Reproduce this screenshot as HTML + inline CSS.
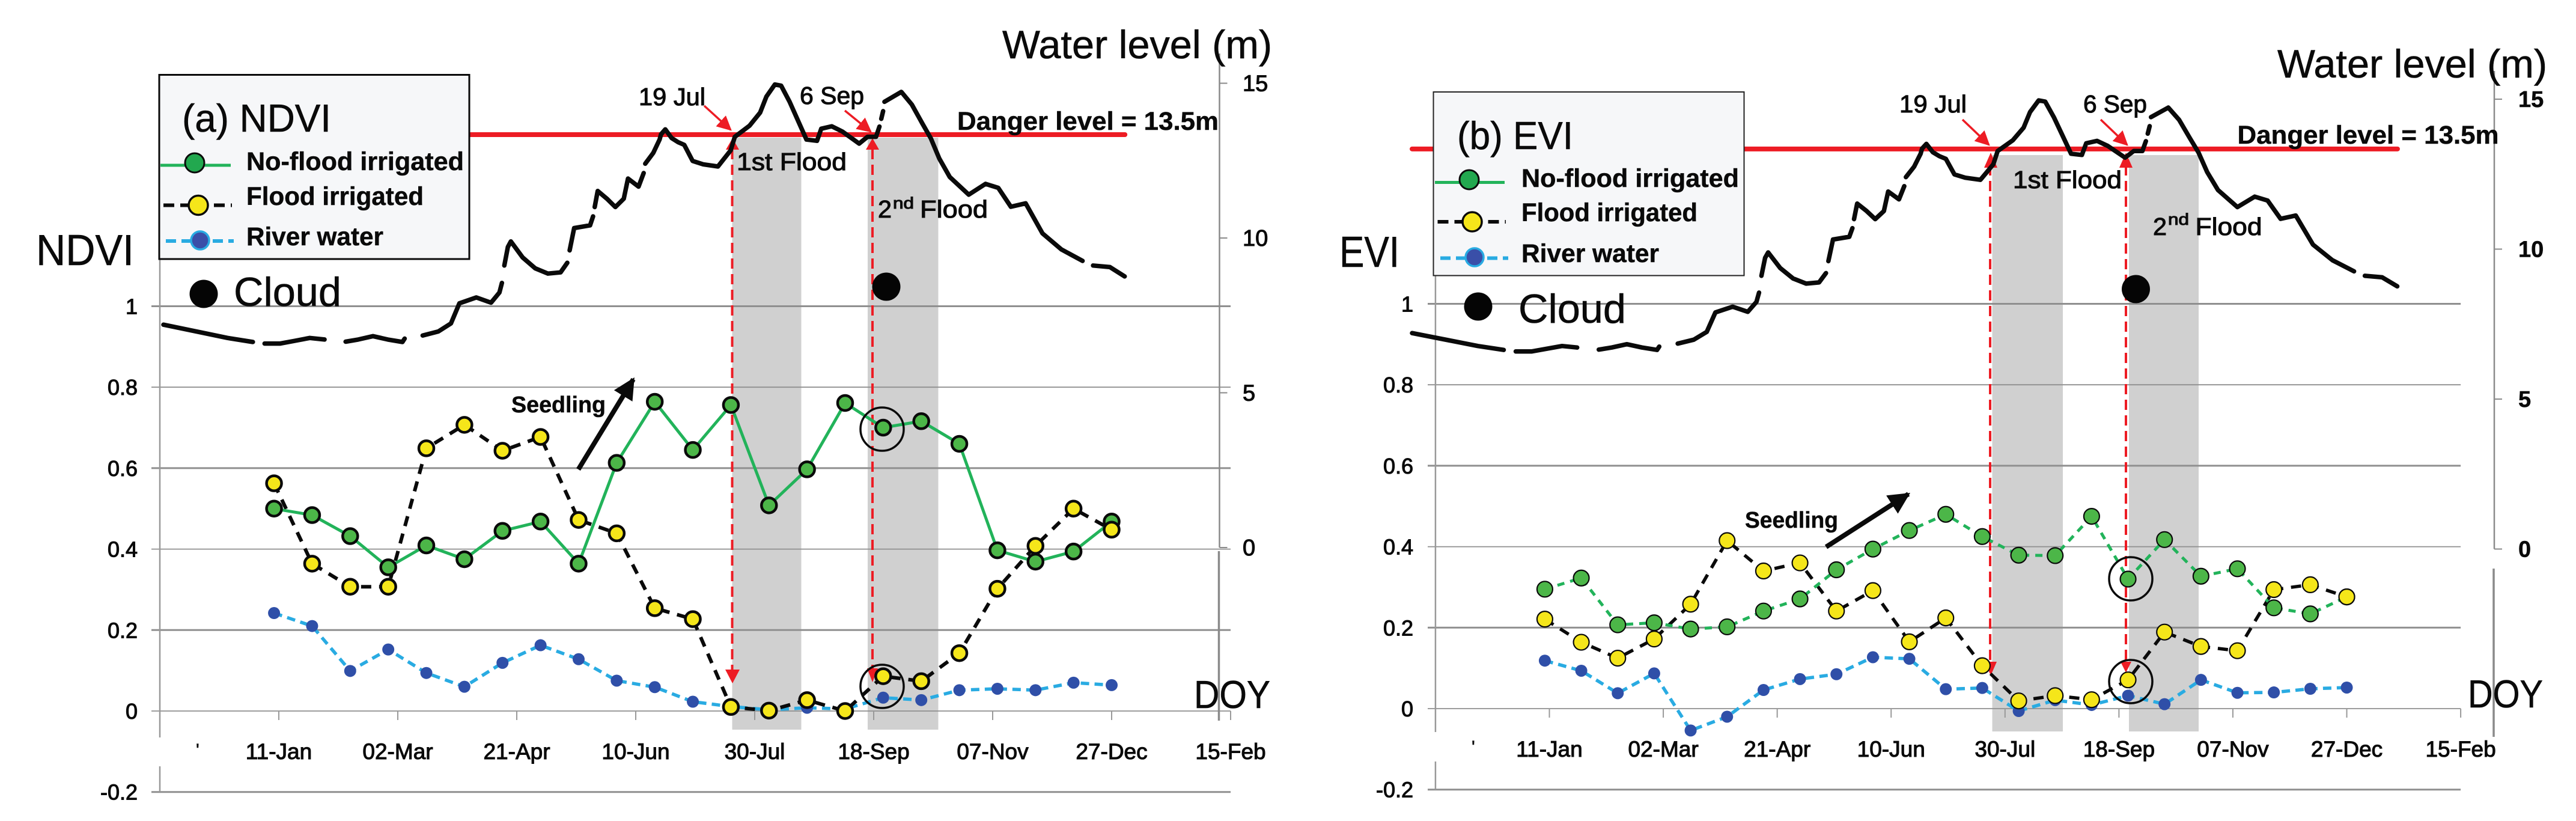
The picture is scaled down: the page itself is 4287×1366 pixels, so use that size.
<!DOCTYPE html>
<html lang="en">
<head>
<meta charset="utf-8">
<title>NDVI and EVI time series with water level</title>
<style>
html,body{margin:0;padding:0;background:#fff;}
svg{display:block;}
text{font-family:"Liberation Sans",sans-serif;fill:#0a0a0a;stroke:#0a0a0a;stroke-width:.6px;}
.st{stroke:#0a0a0a;stroke-width:1.1px;}
.b{font-weight:bold;stroke-width:.5px;}
</style>
</head>
<body>
<svg id="figure" xmlns="http://www.w3.org/2000/svg" width="4287" height="1366" viewBox="0 0 4287 1366">
<defs>
<marker id="tri" viewBox="0 0 10 10" refX="9" refY="5" markerWidth="7" markerHeight="7" orient="auto"><path d="M0 0L10 5L0 10Z" fill="#ed1c24"/></marker>
<marker id="blk" viewBox="0 0 10 10" refX="9" refY="5" markerWidth="4.5" markerHeight="4.5" orient="auto"><path d="M0 0L10 5L0 10Z" fill="#0a0a0a"/></marker>
</defs>

<!-- PANEL A underlay -->
<g>
<rect x="1218.5" y="229" width="115" height="985" fill="#d0d0d0"/>
<rect x="1444" y="229" width="117.5" height="985" fill="#d0d0d0"/>
</g>
<g id="panel-a"></g>
<g>
<line x1="1218.5" y1="248" x2="1218.5" y2="1116" stroke="#ed1c24" stroke-width="4" stroke-dasharray="17 9"/>
<line x1="1452" y1="248" x2="1452" y2="1112" stroke="#ed1c24" stroke-width="4" stroke-dasharray="17 9"/>
<path d="M1219 230L1230 249L1208 249Z" fill="#ed1c24"/>
<path d="M1452 230L1463 249L1441 249Z" fill="#ed1c24"/>
<path d="M1219 1137L1207 1114L1231 1114Z" fill="#ed1c24"/>
<path d="M1452 1135L1443 1112L1461 1112Z" fill="#ed1c24"/>
<line x1="1172" y1="176" x2="1216" y2="216" stroke="#ed1c24" stroke-width="3.5" marker-end="url(#tri)"/>
<line x1="1406" y1="184" x2="1449" y2="219" stroke="#ed1c24" stroke-width="3.5" marker-end="url(#tri)"/>
</g>
<g id="panel-a-series"></g>
<g>
<ellipse cx="1468" cy="714" rx="36" ry="36" fill="none" stroke="#0a0a0a" stroke-width="3.5"/>
<ellipse cx="1468" cy="1142" rx="36" ry="36" fill="none" stroke="#0a0a0a" stroke-width="3.5"/>
<circle cx="1475" cy="477" r="23.5" fill="#050505"/>
<line x1="962.5" y1="781" x2="1054" y2="631" stroke="#0a0a0a" stroke-width="8" marker-end="url(#blk)"/>
<text class="b" x="851" y="686" font-size="38" textLength="157" lengthAdjust="spacingAndGlyphs">Seedling</text>
<text class="st" x="1063" y="175" font-size="41" textLength="111" lengthAdjust="spacingAndGlyphs">19 Jul</text>
<text class="st" x="1331" y="173" font-size="41" textLength="107" lengthAdjust="spacingAndGlyphs">6 Sep</text>
<text class="b" x="1593" y="216" font-size="43" textLength="435" lengthAdjust="spacingAndGlyphs">Danger level = 13.5m</text>
<text class="st" x="1226" y="283" font-size="41" textLength="183" lengthAdjust="spacingAndGlyphs">1st Flood</text>
<text class="st" x="1461" y="362" font-size="41" textLength="23" lengthAdjust="spacingAndGlyphs">2</text>
<text class="st" x="1486" y="347" font-size="27" textLength="35" lengthAdjust="spacingAndGlyphs">nd</text>
<text class="st" x="1531" y="362" font-size="41" textLength="113" lengthAdjust="spacingAndGlyphs">Flood</text>
<text x="1668" y="97" font-size="66" textLength="449" lengthAdjust="spacingAndGlyphs">Water level (m)</text>
<text x="60" y="441" font-size="72" textLength="163" lengthAdjust="spacingAndGlyphs">NDVI</text>
<text x="1987" y="1178" font-size="65" textLength="127" lengthAdjust="spacingAndGlyphs">DOY</text>
<text x="326" y="1258" font-size="30">'</text>
<g>
<rect x="265" y="124.5" width="516" height="306.5" fill="#f6f7f9" stroke="#0a0a0a" stroke-width="3"/>
<text x="303" y="219" font-size="65" textLength="248" lengthAdjust="spacingAndGlyphs">(a) NDVI</text>
<line x1="267" y1="275" x2="384" y2="275" stroke="#22b35a" stroke-width="5"/>
<circle cx="324" cy="271" r="16" fill="#22a84f" stroke="#0a0a0a" stroke-width="3"/>
<text class="b" x="410" y="283" font-size="43" textLength="362" lengthAdjust="spacingAndGlyphs">No-flood irrigated</text>
<line x1="272" y1="341.5" x2="386" y2="341.5" stroke="#0a0a0a" stroke-width="6" stroke-dasharray="18 10"/>
<circle cx="330" cy="341.5" r="16" fill="#f5e61a" stroke="#0a0a0a" stroke-width="3.5"/>
<text class="b" x="410" y="341" font-size="43" textLength="295" lengthAdjust="spacingAndGlyphs">Flood irrigated</text>
<line x1="276" y1="401" x2="389" y2="401" stroke="#29abe2" stroke-width="6" stroke-dasharray="17 9"/>
<circle cx="333" cy="400" r="15" fill="#3a4fa8" stroke="#29abe2" stroke-width="3.5"/>
<text class="b" x="410" y="408" font-size="43" textLength="228" lengthAdjust="spacingAndGlyphs">River water</text>
</g>
<circle cx="339" cy="489" r="23.5" fill="#050505"/>
<text x="389" y="509" font-size="68" textLength="179" lengthAdjust="spacingAndGlyphs">Cloud</text>
</g>

<!-- PANEL B underlay -->
<g>
<rect x="3315.5" y="258" width="117.5" height="959" fill="#d0d0d0"/>
<rect x="3543" y="258" width="116" height="959" fill="#d0d0d0"/>
</g>
<g id="panel-b"></g>
<g>
<line x1="3312" y1="275" x2="3312" y2="1105" stroke="#ed1c24" stroke-width="4" stroke-dasharray="17 9"/>
<line x1="3538" y1="275" x2="3538" y2="1105" stroke="#ed1c24" stroke-width="4" stroke-dasharray="17 9"/>
<path d="M3313 254L3324 279L3302 279Z" fill="#ed1c24"/>
<path d="M3538 254L3549 279L3527 279Z" fill="#ed1c24"/>
<path d="M3313 1124L3303 1101L3323 1101Z" fill="#ed1c24"/>
<path d="M3538 1119L3529 1101L3547 1101Z" fill="#ed1c24"/>
<line x1="3266" y1="199" x2="3310" y2="241" stroke="#ed1c24" stroke-width="3.5" marker-end="url(#tri)"/>
<line x1="3496" y1="199" x2="3540" y2="241" stroke="#ed1c24" stroke-width="3.5" marker-end="url(#tri)"/>
</g>
<g id="panel-b-series"></g>
<g>
<ellipse cx="3546" cy="963" rx="36" ry="36" fill="none" stroke="#0a0a0a" stroke-width="3.5"/>
<ellipse cx="3546" cy="1134" rx="36" ry="36" fill="none" stroke="#0a0a0a" stroke-width="3.5"/>
<circle cx="3554.5" cy="481" r="23.5" fill="#050505"/>
<line x1="3039" y1="910" x2="3176" y2="822" stroke="#0a0a0a" stroke-width="8" marker-end="url(#blk)"/>
<text class="b" x="2904" y="878" font-size="38" textLength="155" lengthAdjust="spacingAndGlyphs">Seedling</text>
<text class="st" x="3161" y="187" font-size="41" textLength="112" lengthAdjust="spacingAndGlyphs">19 Jul</text>
<text class="st" x="3467" y="187" font-size="41" textLength="106" lengthAdjust="spacingAndGlyphs">6 Sep</text>
<text class="b" x="3723.5" y="239" font-size="43" textLength="435" lengthAdjust="spacingAndGlyphs">Danger level = 13.5m</text>
<text class="st" x="3350" y="313" font-size="41" textLength="181" lengthAdjust="spacingAndGlyphs">1st Flood</text>
<text class="st" x="3583" y="391" font-size="41" textLength="23" lengthAdjust="spacingAndGlyphs">2</text>
<text class="st" x="3608" y="374" font-size="27" textLength="35" lengthAdjust="spacingAndGlyphs">nd</text>
<text class="st" x="3653.5" y="391" font-size="41" textLength="111" lengthAdjust="spacingAndGlyphs">Flood</text>
<text x="3790" y="129" font-size="66" textLength="449" lengthAdjust="spacingAndGlyphs">Water level (m)</text>
<text x="2229" y="444" font-size="72" textLength="100" lengthAdjust="spacingAndGlyphs">EVI</text>
<text x="4107" y="1177" font-size="65" textLength="125" lengthAdjust="spacingAndGlyphs">DOY</text>
<text x="2449" y="1253" font-size="30">'</text>
<g>
<rect x="2385.5" y="153" width="517" height="305.5" fill="#f6f7f9" stroke="#222" stroke-width="2"/>
<text x="2425" y="248" font-size="65" textLength="193" lengthAdjust="spacingAndGlyphs">(b) EVI</text>
<line x1="2388" y1="303.5" x2="2504" y2="303.5" stroke="#22b35a" stroke-width="5"/>
<circle cx="2445" cy="299" r="16" fill="#22a84f" stroke="#0a0a0a" stroke-width="3"/>
<text class="b" x="2532" y="311" font-size="43" textLength="362" lengthAdjust="spacingAndGlyphs">No-flood irrigated</text>
<line x1="2392.5" y1="369" x2="2506" y2="369" stroke="#0a0a0a" stroke-width="6" stroke-dasharray="18 10"/>
<circle cx="2450" cy="369" r="16" fill="#f5e61a" stroke="#0a0a0a" stroke-width="3.5"/>
<text class="b" x="2532" y="368" font-size="43" textLength="293" lengthAdjust="spacingAndGlyphs">Flood irrigated</text>
<line x1="2397" y1="429.5" x2="2510" y2="429.5" stroke="#29abe2" stroke-width="6" stroke-dasharray="17 9"/>
<circle cx="2454" cy="428" r="15" fill="#3a4fa8" stroke="#29abe2" stroke-width="3.5"/>
<text class="b" x="2532" y="436" font-size="43" textLength="229" lengthAdjust="spacingAndGlyphs">River water</text>
</g>
<circle cx="2460" cy="510" r="23.5" fill="#050505"/>
<text x="2527" y="537" font-size="68" textLength="179" lengthAdjust="spacingAndGlyphs">Cloud</text>
</g>
</svg>

<script>
// ---- data ----
const compositeDoy = [9,25,41,57,73,89,105,121,137,153,169,185,201,217,233,249,265,281,297,313,329,345,361];

const ndviNoFlood = [.50,.484,.432,.355,.409,.375,.445,.468,.364,.613,.764,.645,.756,.508,.597,.761,.70,.716,.66,.397,.369,.394,.468];
const ndviFlood   = [.5625,.364,.307,.307,.649,.707,.643,.677,.472,.439,.254,.227,.01,.001,.027,0,.086,.0736,.143,.302,.408,.50,.448];
const ndviRiver   = [.242,.21,.099,.152,.094,.06,.119,.1625,.128,.075,.059,.023,.011,.003,.008,.005,.033,.027,.0515,.055,.0515,.07,.064];

const eviNoFlood = [.295,.3226,.207,.212,.1966,.202,.241,.271,.343,.394,.44,.48,.425,.379,.378,.475,.32,.4175,.327,.3455,.249,.234,.276];
const eviFlood   = [.221,.164,.1246,.172,.258,.415,.34,.36,.241,.2916,.165,.224,.106,.019,.032,.022,.071,.189,.1535,.143,.294,.306,.276];
const eviRiver   = [.1185,.0936,.038,.087,-.054,-.02,.046,.073,.085,.127,.123,.048,.051,-.006,.021,.009,.032,.011,.071,.039,.04,.049,.052];

const yTicks = [1,.8,.6,.4,.2,0,-.2];
const yTickLabels = ['1','0.8','0.6','0.4','0.2','0','-0.2'];
const waterTicks = [15,10,5,0];
const waterTickLabels = ['15','10','5','0'];
const xTickDoy = [11,61,111,161,211,261,311,361,411];
const xTickLabels = ['11-Jan','02-Mar','21-Apr','10-Jun','30-Jul','18-Sep','07-Nov','27-Dec','15-Feb'];
const xAxisStartDoy = [-39];
const dangerLevel = [13.34];

// river water level by day; null marks a gap in the record
const waterDay = [0,14.75,24.35,33.95,null,38.4,44.35,49.95,55.55,61.15,null,69.15,73.95,79.55,85.15,90.75,91.55,null,98.4,104.35,109.15,112.35,118.75,124.35,127.55,128.5,null,129.4,130.75,131.9,136.35,141.15,145.95,150.75,153.3,null,154.2,155.9,161.95,163.1,null,163.7,164.85,168.35,171.55,174.75,176.35,180.35,182.3,null,182.9,185.95,188.35,188.9,190.5,192.9,195.3,197.7,200.9,204.9,210.5,212.9,215.3,216.9,222.5,226.5,228.9,232.1,234.5,237.7,240.9,244.1,248.1,249.7,253.7,257.7,264.1,267.3,270.5,271.8,null,272.5,273.2,null,273.7,280.1,284.1,288.1,291.3,294.5,298.5,305.7,312.1,316.9,321.7,327.3,333.7,340.9,348.9,null,352.9,359.3,364.9];
const waterLevel = [7.2,6.94,6.77,6.64,null,6.59,6.59,6.68,6.77,6.72,null,6.65,6.72,6.83,6.72,6.64,6.75,null,6.85,6.98,7.24,7.89,8.08,7.91,8.24,8.55,null,9.11,9.71,9.89,9.37,9.02,8.85,8.89,9.2,null,9.6,10.32,10.41,10.7,null,11.0,11.52,11.27,11.0,11.27,11.92,11.66,12.1,null,12.4,12.75,13.18,13.35,13.51,13.23,13.1,13.01,12.49,12.38,12.31,12.57,12.83,13.27,13.63,14.05,14.57,14.96,14.92,14.4,13.79,13.18,13.14,13.53,13.61,13.44,13.05,13.27,13.27,13.6,null,13.85,14.1,null,14.4,14.72,14.31,13.7,13.22,12.57,11.97,11.4,11.75,11.62,11.01,11.12,10.15,9.63,9.26,null,9.11,9.06,8.76];

// ---- drawing ----
const NS = 'http://www.w3.org/2000/svg';
function make(tag, parent) {
  const e = document.createElementNS(NS, tag);
  parent.appendChild(e);
  return e;
}
function seg(parent, x1, y1, x2, y2, color, w) {
  const l = make('line', parent);
  l.setAttribute('x1', x1);
  l.setAttribute('y1', y1);
  l.setAttribute('x2', x2);
  l.setAttribute('y2', y2);
  l.setAttribute('stroke', color);
  l.setAttribute('stroke-width', w);
  return l;
}
function label(parent, x, y, str, size, anchor, cls) {
  const t = make('text', parent);
  t.setAttribute('x', x);
  t.setAttribute('y', y);
  t.setAttribute('font-size', size);
  t.setAttribute('text-anchor', anchor);
  t.setAttribute('class', cls);
  t.textContent = str;
  return t;
}

function drawPanel(g, sg, L, noFlood, flood, river) {
  const x = d => L.x0 + (d - xTickDoy[0]) * L.pxPerDay;
  const y = v => L.y0 - v * L.pxPerUnit;
  const wx = d => L.wx0 + d * L.wxPerDay;
  const wy = m => L.wy0 - m * L.wyPerM;
  const xLeft = x(xAxisStartDoy[0]);
  const xRight = x(xTickDoy[xTickDoy.length - 1]);

  yTicks.forEach((v, i) => {
    const gl = seg(g, L.gridLeft, y(v), xRight, y(v), '#8f8f8f', i % 2 === L.thickMod ? 3 : 1.8);
    
    
    const t = label(g, L.yLabelX, y(v) + 13, yTickLabels[i], 36, 'end', 'st');
    
    
  });

  const leftAxis = seg(g, xLeft, L.leftTop, xLeft, L.leftBreakTop, '#999', 2.5);
  
  
  const leftAxisLow = seg(g, xLeft, L.leftBreakBottom, xLeft, y(-.2), '#999', 2.5);
  
  

  xTickDoy.forEach((d, i) => {
    const tk = seg(g, x(d), y(0), x(d), y(0) + 15, '#999', 2);
    
    
    const t = label(g, x(d), L.xLabelY, xTickLabels[i], 37, 'middle', 'st');
    
    
  });

  const rightAxis = seg(g, L.rightX, L.rightTop, L.rightX, wy(0), '#8a8a8a', 2.5);
  
  
  const rightLow = seg(g, L.rightX - 1, L.rightLowTop, L.rightX - 1, L.rightLowBottom, '#8a8a8a', 3.5);
  
  
  waterTicks.forEach((m, i) => {
    const tk = seg(g, L.rightX, wy(m), L.rightX + 13, wy(m), '#8a8a8a', 2);
    
    
    const t = label(g, L.waterLabelX, wy(m) + L.waterLabelDy, waterTickLabels[i], 38, 'start', L.waterClass);
    
    
  });

  const danger = seg(g, wx(0), wy(dangerLevel[0]), wx(365), wy(dangerLevel[0]), '#ed1c24', 8);
  danger.setAttribute('stroke-linecap', 'round');
  
  

  // water level curve, split at gaps
  let d = '', pen = false;
  waterDay.forEach((w, i) => {
    if (w === null) { pen = false; return; }
    d += (pen ? 'L' : 'M') + wx(w).toFixed(1) + ' ' + wy(waterLevel[i]).toFixed(1);
    pen = true;
  });
  const water = make('path', sg);
  water.setAttribute('d', d);
  water.setAttribute('fill', 'none');
  water.setAttribute('stroke', '#0a0a0a');
  water.setAttribute('stroke-width', 7.5);
  water.setAttribute('stroke-linejoin', 'round');
  water.setAttribute('stroke-linecap', 'round');
  
  

  function series(values, color, width, dash) {
    const p = make('polyline', sg);
    p.setAttribute('points', values.map((v, i) => x(compositeDoy[i]).toFixed(1) + ',' + y(v).toFixed(1)).join(' '));
    p.setAttribute('fill', 'none');
    p.setAttribute('stroke', color);
    p.setAttribute('stroke-width', width);
    if (dash) p.setAttribute('stroke-dasharray', dash);
    return p;
  }
  function dots(values, fill, r, sw) {
    const out = [];
    values.forEach((v, i) => {
      const c = make('circle', sg);
      c.setAttribute('cx', x(compositeDoy[i]));
      c.setAttribute('cy', y(v));
      c.setAttribute('r', r);
      c.setAttribute('fill', fill);
      if (sw) {
        c.setAttribute('stroke', '#0a0a0a');
        c.setAttribute('stroke-width', sw);
      }
      out.push(c);
    });
    return out;
  }

  const riverLine = series(river, '#29abe2', 5.5, '14 9');
  
  
  const floodLine = series(flood, '#0a0a0a', L.floodW, '17 13');
  
  
  const noFloodLine = series(noFlood, '#22b35a', 5, L.noFloodDash);
  
  

  dots(river, '#2f4fa8', 10, 0).forEach(c => {
    
    
  });
  dots(noFlood, '#4cb648', L.markerR, L.markerSW).forEach(c => {
    
    
  });
  dots(flood, '#f5e61a', L.markerR, L.markerSW).forEach(c => {
    
    
  });
}

drawPanel(document.getElementById('panel-a'), document.getElementById('panel-a-series'), {
  x0: 464, pxPerDay: 3.96, y0: 1183, pxPerUnit: 673.5,
  wx0: 272, wxPerDay: 4.384, wy0: 911, wyPerM: 51.5,
  gridLeft: 252, yLabelX: 229, xLabelY: 1263, thickMod: 0,
  leftTop: 431, leftBreakTop: 1227, leftBreakBottom: 1275,
  rightX: 2029.5, rightTop: 89, rightLowTop: 917, rightLowBottom: 1199,
  waterLabelX: 2068, waterLabelDy: 13, waterClass: 'st',
  markerR: 12.5, markerSW: 4.5, floodW: 6, noFloodDash: ''
}, ndviNoFlood, ndviFlood, ndviRiver);

drawPanel(document.getElementById('panel-b'), document.getElementById('panel-b-series'), {
  x0: 2578.5, pxPerDay: 3.7915, y0: 1179, pxPerUnit: 673.5,
  wx0: 2350, wxPerDay: 4.493, wy0: 913.5, wyPerM: 49.9,
  gridLeft: 2376, yLabelX: 2352, xLabelY: 1259, thickMod: 0,
  leftTop: 458, leftBreakTop: 1218, leftBreakBottom: 1267,
  rightX: 4151, rightTop: 118, rightLowTop: 946, rightLowBottom: 1226,
  waterLabelX: 4191, waterLabelDy: 13, waterClass: 'b',
  markerR: 13, markerSW: 2.2, floodW: 5.5, noFloodDash: '12 10'
}, eviNoFlood, eviFlood, eviRiver);
</script>
</body>
</html>
